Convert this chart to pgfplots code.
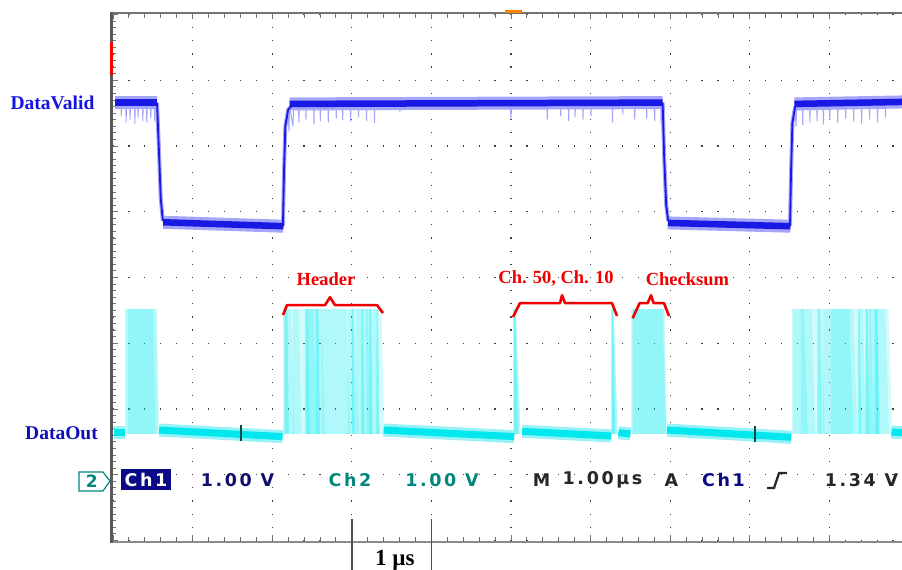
\documentclass[border=0pt]{standalone}
\usepackage{pgfplots}
\pgfplotsset{compat=1.18}
\usepackage{fontspec}
\setmainfont{Liberation Serif}
\newfontfamily\scopefont{DejaVu Sans}[LetterSpace=15]
\newcommand\fs[1]{\fontsize{#1}{#1}\selectfont}
\definecolor{dvblue}{RGB}{25,25,228}
\definecolor{dvhalo}{RGB}{165,165,250}
\definecolor{dvlabel}{RGB}{20,20,225}
\definecolor{dolabel}{RGB}{15,15,185}
\definecolor{docyan}{RGB}{0,232,238}
\definecolor{dohalo}{RGB}{150,242,246}
\definecolor{labred}{RGB}{240,0,0}
\definecolor{navy}{RGB}{15,15,110}
\definecolor{ch1box}{RGB}{10,10,135}
\definecolor{tealtxt}{RGB}{0,135,125}
\definecolor{framegray}{RGB}{115,115,115}
\newcommand{\pulse}[3]{\addplot[draw=none, fill=docyan, fill opacity=0.17] coordinates {(#1,1.62) (#1,3.52) (#2,3.52) (#3,1.62)};}
\newcommand{\spike}[3]{\addplot[draw=none, fill=docyan, fill opacity=0.33] coordinates {(#1,1.62) (#1,3.52) (#2,3.52) (#3,1.62)};}
\begin{document}
\begin{tikzpicture}
\begin{axis}[
  x=79.6pt, y=65.75pt,
  scale only axis,
  xmin=0, xmax=9.912, ymin=0, ymax=8,
  axis line style={draw=none},
  xtick={0,...,9}, ytick={0,...,8},
  minor x tick num=4, minor y tick num=9,
  xticklabels={}, yticklabels={},
  tick label style={text opacity=0},
  ytick pos=left,
  tick align=inside,
  major tick length=5pt, minor tick length=3.5pt,
  tick style={framegray, line width=0.9pt},
  grid=major,
  major x grid style={black!75, line width=1.2pt, dash pattern=on 1.2pt off 11.95pt, dash phase=0.6pt},
  major y grid style={black!75, line width=1.2pt, dash pattern=on 1.2pt off 14.72pt, dash phase=0.6pt},
  clip=false,
]
% ---------------- DataValid (Ch1) ----------------
\addplot[dvhalo, line width=1pt] coordinates {(0.03,6.66)(0.10,6.66)(0.105,6.45)(0.11,6.66)(0.16,6.66)(0.165,6.36)(0.17,6.66)(0.21,6.66)(0.215,6.40)(0.22,6.66)(0.27,6.66)(0.275,6.34)(0.28,6.66)(0.31,6.66)(0.315,6.43)(0.32,6.66)(0.37,6.66)(0.375,6.38)(0.38,6.66)(0.42,6.66)(0.425,6.35)(0.43,6.66)(0.47,6.66)(0.475,6.42)(0.48,6.66)(0.52,6.66)(0.525,6.37)(0.53,6.66)(0.55,6.66)};
\addplot[dvhalo, line width=1pt] coordinates {(2.2,6.55)(2.21,6.22)(2.22,6.6)(2.26,6.3)(2.27,6.66)(2.33,6.66)(2.335,6.35)(2.34,6.66)(2.42,6.66)(2.425,6.40)(2.43,6.66)(2.52,6.66)(2.525,6.33)(2.53,6.66)(2.60,6.66)(2.605,6.38)(2.61,6.66)(2.70,6.66)(2.705,6.36)(2.71,6.66)(2.80,6.66)(2.805,6.42)(2.81,6.66)(2.88,6.66)(2.885,6.39)(2.89,6.66)(2.98,6.66)(2.985,6.37)(2.99,6.66)(3.08,6.66)(3.085,6.44)(3.09,6.66)(3.18,6.66)(3.185,6.38)(3.19,6.66)(3.28,6.66)(3.285,6.35)(3.29,6.66)(3.60,6.66)(3.605,6.52)(3.61,6.66)(4.99,6.66)(5.0,6.42)(5.01,6.66)(5.45,6.66)(5.455,6.40)(5.46,6.66)(5.62,6.66)(5.625,6.45)(5.63,6.66)(5.72,6.66)(5.725,6.38)(5.73,6.66)(5.80,6.66)(5.805,6.44)(5.81,6.66)(5.90,6.66)(5.905,6.40)(5.91,6.66)(6.0,6.66)(6.005,6.46)(6.01,6.66)(6.27,6.66)(6.275,6.36)(6.28,6.66)(6.40,6.66)(6.405,6.48)(6.41,6.66)(6.55,6.66)(6.555,6.40)(6.56,6.66)(6.70,6.66)(6.705,6.42)(6.71,6.66)(6.80,6.66)(6.805,6.38)(6.81,6.66)(6.88,6.66)(6.885,6.34)(6.89,6.66)(6.905,6.66)};
\addplot[dvhalo, line width=1pt] coordinates {(8.57,6.6)(8.58,6.30)(8.59,6.62)(8.66,6.66)(8.665,6.32)(8.67,6.66)(8.75,6.66)(8.755,6.36)(8.76,6.66)(8.84,6.66)(8.845,6.38)(8.85,6.66)(8.92,6.66)(8.925,6.33)(8.93,6.66)(9.0,6.66)(9.005,6.40)(9.01,6.66)(9.10,6.66)(9.105,6.35)(9.11,6.66)(9.20,6.66)(9.205,6.42)(9.21,6.66)(9.30,6.66)(9.305,6.37)(9.31,6.66)(9.40,6.66)(9.405,6.34)(9.41,6.66)(9.50,6.66)(9.505,6.40)(9.51,6.66)(9.60,6.66)(9.605,6.36)(9.61,6.66)(9.70,6.66)(9.705,6.43)(9.71,6.66)(9.912,6.66)};
\addplot[dvhalo, line width=13pt] coordinates {(0.03,6.66)(0.555,6.66)};
\addplot[dvhalo, line width=13pt] coordinates {(2.22,6.64)(6.905,6.66)};
\addplot[dvhalo, line width=13pt] coordinates {(8.56,6.64)(9.912,6.67)};
\addplot[dvhalo, line width=13pt] coordinates {(0.63,4.84)(2.14,4.78)};
\addplot[dvhalo, line width=13pt] coordinates {(6.97,4.83)(8.51,4.78)};
\addplot[dvhalo, line width=4pt] coordinates {(0.553,6.66)(0.575,6.0)(0.60,5.2)(0.625,4.88)(0.66,4.85)};
\addplot[dvhalo, line width=4pt] coordinates {(2.135,4.78)(2.148,5.6)(2.165,6.3)(2.2,6.55)(2.25,6.62)};
\addplot[dvhalo, line width=4pt] coordinates {(6.905,6.66)(6.925,5.8)(6.95,5.1)(6.975,4.86)};
\addplot[dvhalo, line width=4pt] coordinates {(8.505,4.78)(8.518,5.6)(8.535,6.35)(8.57,6.6)};
\addplot[dvblue, line width=1.8pt] coordinates {(0.553,6.66)(0.575,6.0)(0.60,5.2)(0.625,4.88)(0.66,4.85)};
\addplot[dvblue, line width=1.8pt] coordinates {(2.135,4.78)(2.148,5.6)(2.165,6.3)(2.2,6.55)(2.25,6.62)};
\addplot[dvblue, line width=1.8pt] coordinates {(6.905,6.66)(6.925,5.8)(6.95,5.1)(6.975,4.86)};
\addplot[dvblue, line width=1.8pt] coordinates {(8.505,4.78)(8.518,5.6)(8.535,6.35)(8.57,6.6)};
\addplot[dvblue, line width=6.5pt] coordinates {(0.03,6.66)(0.555,6.66)};
\addplot[dvblue, line width=6.5pt] coordinates {(2.22,6.64)(6.905,6.66)};
\addplot[dvblue, line width=6.5pt] coordinates {(8.56,6.64)(9.912,6.67)};
\addplot[dvblue, line width=6.5pt] coordinates {(0.63,4.84)(2.14,4.78)};
\addplot[dvblue, line width=6.5pt] coordinates {(6.97,4.83)(8.51,4.78)};
% ---------------- DataOut (Ch2) ----------------
\pulse{0.15}{0.55}{0.58}
\pulse{0.16}{0.50}{0.54}
\pulse{0.19}{0.54}{0.57}
\pulse{2.136}{2.24}{2.28}
\pulse{2.14}{2.33}{2.37}
\pulse{2.26}{2.52}{2.56}
\pulse{2.41}{2.62}{2.66}
\pulse{2.45}{2.93}{2.98}
\pulse{2.62}{3.03}{3.08}
\pulse{2.95}{3.20}{3.24}
\pulse{3.05}{3.30}{3.34}
\pulse{3.18}{3.37}{3.41}
\spike{2.16}{2.19}{2.21}
\spike{2.42}{2.45}{2.47}
\spike{2.55}{2.58}{2.60}
\spike{3.00}{3.02}{3.04}
\spike{3.12}{3.14}{3.16}
\spike{3.22}{3.24}{3.26}
\spike{3.31}{3.33}{3.35}
\spike{5.03}{5.06}{5.12}
\spike{5.035}{5.05}{5.09}
\spike{6.26}{6.29}{6.34}
\spike{6.265}{6.28}{6.31}
\pulse{6.51}{6.93}{6.96}
\pulse{6.52}{6.90}{6.95}
\pulse{6.53}{6.92}{6.95}
\pulse{8.53}{8.68}{8.73}
\pulse{8.54}{8.78}{8.82}
\pulse{8.64}{8.90}{8.94}
\pulse{8.88}{9.25}{9.30}
\pulse{8.92}{9.30}{9.35}
\pulse{9.02}{9.42}{9.46}
\pulse{9.38}{9.52}{9.56}
\pulse{9.45}{9.60}{9.64}
\pulse{9.50}{9.70}{9.75}
\pulse{9.56}{9.74}{9.79}
\spike{8.85}{8.88}{8.90}
\spike{9.36}{9.38}{9.40}
\spike{9.46}{9.48}{9.50}
\spike{9.58}{9.60}{9.62}
\addplot[dohalo, line width=13pt] coordinates {(0.01,1.65)(0.15,1.65)};
\addplot[dohalo, line width=13pt] coordinates {(0.58,1.68)(2.13,1.58)};
\addplot[dohalo, line width=13pt] coordinates {(3.40,1.68)(5.04,1.58)};
\addplot[dohalo, line width=13pt] coordinates {(5.14,1.66)(6.26,1.59)};
\addplot[dohalo, line width=13pt] coordinates {(6.35,1.64)(6.50,1.62)};
\addplot[dohalo, line width=13pt] coordinates {(6.96,1.68)(8.52,1.57)};
\addplot[dohalo, line width=13pt] coordinates {(9.78,1.65)(9.912,1.64)};
\addplot[docyan, line width=7pt] coordinates {(0.01,1.65)(0.15,1.65)};
\addplot[docyan, line width=7pt] coordinates {(0.58,1.68)(2.13,1.58)};
\addplot[docyan, line width=7pt] coordinates {(3.40,1.68)(5.04,1.58)};
\addplot[docyan, line width=7pt] coordinates {(5.14,1.66)(6.26,1.59)};
\addplot[docyan, line width=7pt] coordinates {(6.35,1.64)(6.50,1.62)};
\addplot[docyan, line width=7pt] coordinates {(6.96,1.68)(8.52,1.57)};
\addplot[docyan, line width=7pt] coordinates {(9.78,1.65)(9.912,1.64)};
% ---------------- frame and markers ----------------
\draw[black!55, line width=2pt] (axis cs:9.912,8.03) -- (axis cs:-0.02,8.03);
\draw[black!45, line width=2pt] (axis cs:-0.02,-0.03) -- (axis cs:9.912,-0.03);
\draw[black!65, line width=3pt] (axis cs:-0.02,8.04) -- (axis cs:-0.02,-0.04);
\fill[labred] (axis cs:-0.04,7.58) rectangle (axis cs:0.0,7.08);
\fill[orange] (axis cs:4.925,8.02) rectangle (axis cs:5.138,8.07);
\draw[black!40!teal, line width=1.2pt] (axis cs:1.608,1.52) -- (axis cs:1.608,1.76);
\draw[black!40!teal, line width=1.2pt] (axis cs:8.065,1.50) -- (axis cs:8.065,1.74);
% ---------------- annotations ----------------
\node[font=\fs{19.5}\bfseries, text=dvlabel] at (axis cs:-0.760,6.654) {DataValid};
\node[font=\fs{19.5}\bfseries, text=dolabel] at (axis cs:-0.647,1.635) {DataOut};
\draw[labred, line width=2.6pt, line join=round] (axis cs:2.136,3.43) -- (axis cs:2.186,3.58) -- (axis cs:2.664,3.58) -- (axis cs:2.726,3.70) -- (axis cs:2.789,3.58) -- (axis cs:3.317,3.58) -- (axis cs:3.392,3.46);
\draw[labred, line width=2.6pt, line join=round] (axis cs:5.025,3.40) -- (axis cs:5.113,3.61) -- (axis cs:5.616,3.61) -- (axis cs:5.641,3.73) -- (axis cs:5.679,3.61) -- (axis cs:6.269,3.61) -- (axis cs:6.332,3.414);
\draw[labred, line width=2.6pt, line join=round] (axis cs:6.528,3.38) -- (axis cs:6.616,3.61) -- (axis cs:6.717,3.61) -- (axis cs:6.759,3.73) -- (axis cs:6.792,3.61) -- (axis cs:6.922,3.61) -- (axis cs:6.985,3.414);
\node[font=\fs{18.5}\bfseries, text=labred] at (axis cs:2.676,3.977) {Header};
\node[font=\fs{18.5}\bfseries, text=labred] at (axis cs:5.565,3.977) {Ch. 50, Ch. 10};
\node[font=\fs{18.5}\bfseries, text=labred] at (axis cs:7.217,3.977) {Checksum};
\draw[black!70, line width=1.5pt] (axis cs:3,0.33) -- (axis cs:3,-0.5);
\draw[black!70, line width=1.5pt] (axis cs:4,0.33) -- (axis cs:4,-0.5);
\node[font=\fs{23}\bfseries, anchor=base, inner sep=0pt] at (axis cs:3.54,-0.38) {1 µs};
\draw[tealtxt, line width=1.2pt, fill=white] (axis cs:-0.427,1.042) -- (axis cs:-0.126,1.042) -- (axis cs:-0.038,0.905) -- (axis cs:-0.126,0.753) -- (axis cs:-0.427,0.753) -- cycle;
\node[font=\scopefont\fs{17}\bfseries, text=tealtxt, inner sep=0pt] at (axis cs:-0.265,0.90) {2};
\fill[ch1box] (axis cs:0.1005,1.087) rectangle (axis cs:0.7286,0.768);
\node[font=\scopefont\fs{17.5}\bfseries, text=white, inner sep=0pt] at (axis cs:0.4146,0.92) {Ch1};
\node[font=\scopefont\fs{17.5}\bfseries, text=navy, inner sep=0pt] at (axis cs:1.564,0.92) {1.00 V};
\node[font=\scopefont\fs{17.5}\bfseries, text=tealtxt, inner sep=0pt] at (axis cs:2.977,0.92) {Ch2};
\node[font=\scopefont\fs{17.5}\bfseries, text=tealtxt, inner sep=0pt] at (axis cs:4.133,0.92) {1.00 V};
\node[font=\scopefont\fs{17.5}\bfseries, text=black!85, inner sep=0pt] at (axis cs:5.383,0.92) {M};
\node[font=\scopefont\fs{17.5}\bfseries, text=black!85, inner sep=0pt] at (axis cs:6.149,0.92) {1.00µs};
\node[font=\scopefont\fs{17.5}\bfseries, text=black!85, inner sep=0pt] at (axis cs:7.016,0.92) {A};
\node[font=\scopefont\fs{17.5}\bfseries, text=ch1box, inner sep=0pt] at (axis cs:7.67,0.92) {Ch1};
\draw[black!85, line width=2.2pt] (axis cs:8.216,0.798) -- (axis cs:8.304,0.798) -- (axis cs:8.367,1.027) -- (axis cs:8.467,1.027);
\node[font=\scopefont\fs{17.5}\bfseries, text=black!85, inner sep=0pt] at (axis cs:9.403,0.92) {1.34 V};
\coordinate (BL) at (axis cs:-1.4196,-0.4487);
\coordinate (TR) at (axis cs:9.912,8.2205);
\end{axis}
\pgfresetboundingbox
\useasboundingbox (BL) rectangle (TR);
\end{tikzpicture}
\end{document}
